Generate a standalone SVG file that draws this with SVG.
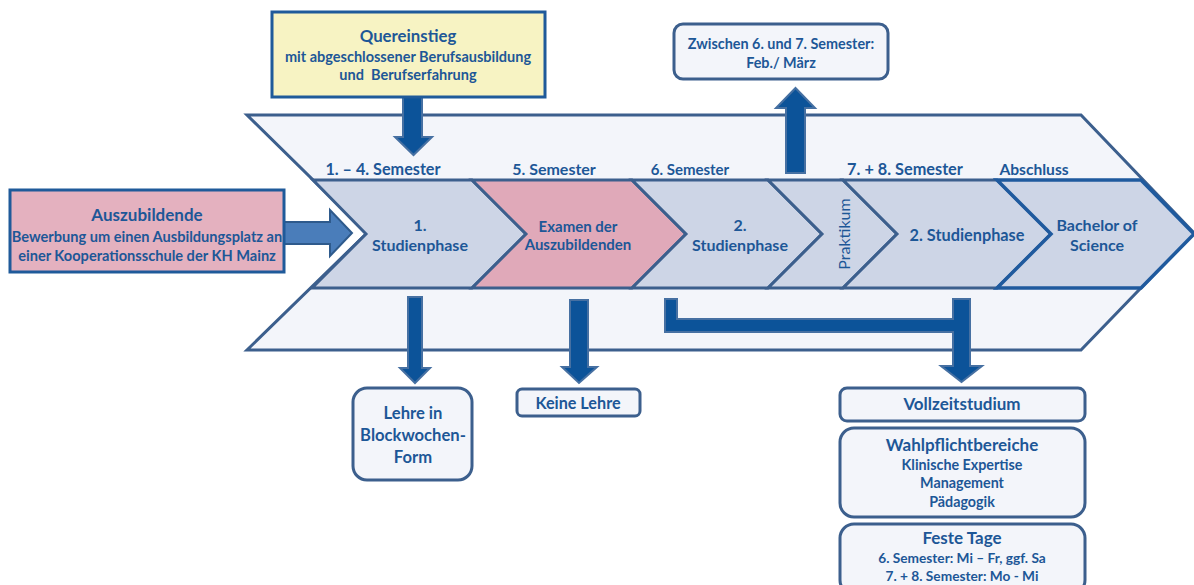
<svg xmlns="http://www.w3.org/2000/svg" width="1194" height="585" viewBox="0 0 1194 585">
<style>
.t{font-family:Lato,"Open Sans","Liberation Sans",sans-serif;font-weight:700;fill:#1D5797;text-anchor:middle}
.seg{fill:#CDD5E6;stroke:#3C5F8D;stroke-width:3;stroke-linejoin:miter}
.box{fill:#F3F5FA;stroke:#3C5F8D;stroke-width:3}
.arr{fill:#0C5399;stroke:#4670A2;stroke-width:2;stroke-linejoin:miter}
</style>
<rect width="1194" height="585" fill="#FFFFFF"/>
<g id="timeline">
  <polygon points="247,115 1081,115 1194,233 1081,350 247,350 367,233" fill="#F3F5FA" stroke="#3C5F8D" stroke-width="3"/>
  <g id="seg1">
    <polygon class="seg" points="313,180 472,180 526,234 472,288 312,288 366,234"/>
    <text class="t" x="420" y="231" font-size="16">1.</text>
    <text class="t" x="420" y="251" font-size="16">Studienphase</text>
  </g>
  <g id="seg2">
    <polygon class="seg" points="472,180 632,180 686,234 632,288 472,288 526,234" style="fill:#E0A9B9"/>
    <text class="t" x="578" y="232" font-size="15">Examen der</text>
    <text class="t" x="578" y="250" font-size="15">Auszubildenden</text>
  </g>
  <g id="seg3">
    <polygon class="seg" points="632,180 768,180 822,234 768,288 632,288 686,234"/>
    <text class="t" x="740" y="231" font-size="16">2.</text>
    <text class="t" x="740" y="251" font-size="16">Studienphase</text>
  </g>
  <g id="seg4">
    <polygon class="seg" points="768,180 843,180 897,234 843,288 768,288 822,234"/>
    <text class="t" x="843" y="234" font-size="16" style="font-weight:400" dominant-baseline="central" transform="rotate(-90 843 234)">Praktikum</text>
  </g>
  <g id="seg5">
    <polygon class="seg" points="843,180 997,180 1051,234 997,288 843,288 897,234"/>
    <text class="t" x="967" y="241" font-size="16.3">2. Studienphase</text>
  </g>
  <g id="seg6">
    <polygon class="seg" points="997,180 1141,180 1194,234 1141,288 997,288 1051,234" style="stroke:#1F5A9E;stroke-width:3.5"/>
    <text class="t" x="1097" y="231" font-size="16">Bachelor of</text>
    <text class="t" x="1097" y="251" font-size="16">Science</text>
  </g>
  <g id="semester-labels">
    <text class="t" x="383" y="175" font-size="16.2">1. – 4. Semester</text>
    <text class="t" x="554" y="175" font-size="16">5. Semester</text>
    <text class="t" x="690" y="175" font-size="15">6. Semester</text>
    <text class="t" x="905" y="175" font-size="16.3">7. + 8. Semester</text>
    <text class="t" x="1034" y="175" font-size="15.6">Abschluss</text>
  </g>
</g>
<g id="connectors">
  <polygon class="arr" points="403,97 422,97 422,137 432,137 413.5,155 395,137 403,137"/>
  <polygon points="284,222 330,222 330,210 352,233 330,256 330,244 284,244" fill="#4A7DBA" stroke="#2E5A8C" stroke-width="2"/>
  <polygon class="arr" points="786,173 805,173 805,108 815,108 795.5,88 776,108 786,108"/>
  <polygon class="arr" points="408,297 422,297 422,368 430,368 415,383 400,368 408,368"/>
  <polygon class="arr" points="570,300 588,300 588,367 597,367 579,383 562,367 570,367"/>
  <polygon class="arr" points="665,299 677,299 677,319 953,319 953,299 970,299 970,366 982,366 961.5,382 941,366 953,366 953,332 665,332"/>
</g>
<g id="quereinstieg">
  <rect x="272" y="12" width="273" height="85" fill="#F7F3C3" stroke="#1F5A9A" stroke-width="3"/>
  <text class="t" x="408" y="42" font-size="16.8">Quereinstieg</text>
  <text class="t" x="408" y="62" font-size="14.5">mit abgeschlossener Berufsausbildung</text>
  <text class="t" x="408" y="80" font-size="14.5" style="white-space:pre">und  Berufserfahrung</text>
</g>
<g id="auszubildende">
  <rect x="10" y="190" width="274" height="82" fill="#E4B1BF" stroke="#1F5A9A" stroke-width="3"/>
  <text class="t" x="147" y="221" font-size="17">Auszubildende</text>
  <text class="t" x="147" y="242" font-size="14.6">Bewerbung um einen Ausbildungsplatz an</text>
  <text class="t" x="147" y="261" font-size="14.6">einer Kooperationsschule der KH Mainz</text>
</g>
<g id="zwischen">
  <rect class="box" x="674" y="24" width="214" height="55" rx="9"/>
  <text class="t" x="781" y="49" font-size="14.4">Zwischen 6. und 7. Semester:</text>
  <text class="t" x="781" y="68" font-size="14.4">Feb./ März</text>
</g>
<g id="lehre">
  <rect class="box" x="353" y="388" width="119" height="92" rx="14"/>
  <text class="t" x="413" y="419" font-size="16.6">Lehre in</text>
  <text class="t" x="413" y="441" font-size="16.6">Blockwochen-</text>
  <text class="t" x="413" y="463" font-size="16.6">Form</text>
</g>
<g id="keine-lehre">
  <rect class="box" x="517" y="389" width="123" height="27" rx="5"/>
  <text class="t" x="578" y="409" font-size="16.2">Keine Lehre</text>
</g>
<g id="vollzeit">
  <rect class="box" x="840" y="388" width="245" height="33" rx="7"/>
  <text class="t" x="962" y="410" font-size="17">Vollzeitstudium</text>
</g>
<g id="wahlpflicht">
  <rect class="box" x="840" y="428" width="245" height="89" rx="14"/>
  <text class="t" x="962" y="451" font-size="17">Wahlpflichtbereiche</text>
  <text class="t" x="962" y="470" font-size="14.3">Klinische Expertise</text>
  <text class="t" x="962" y="488" font-size="14.3">Management</text>
  <text class="t" x="962" y="507" font-size="14.3">Pädagogik</text>
</g>
<g id="feste-tage">
  <rect class="box" x="840" y="524" width="245" height="70" rx="14"/>
  <text class="t" x="962" y="544" font-size="17">Feste Tage</text>
  <text class="t" x="962" y="563" font-size="13.7">6. Semester: Mi – Fr, ggf. Sa</text>
  <text class="t" x="962" y="581" font-size="13.7">7. + 8. Semester: Mo - Mi</text>
</g>
</svg>
